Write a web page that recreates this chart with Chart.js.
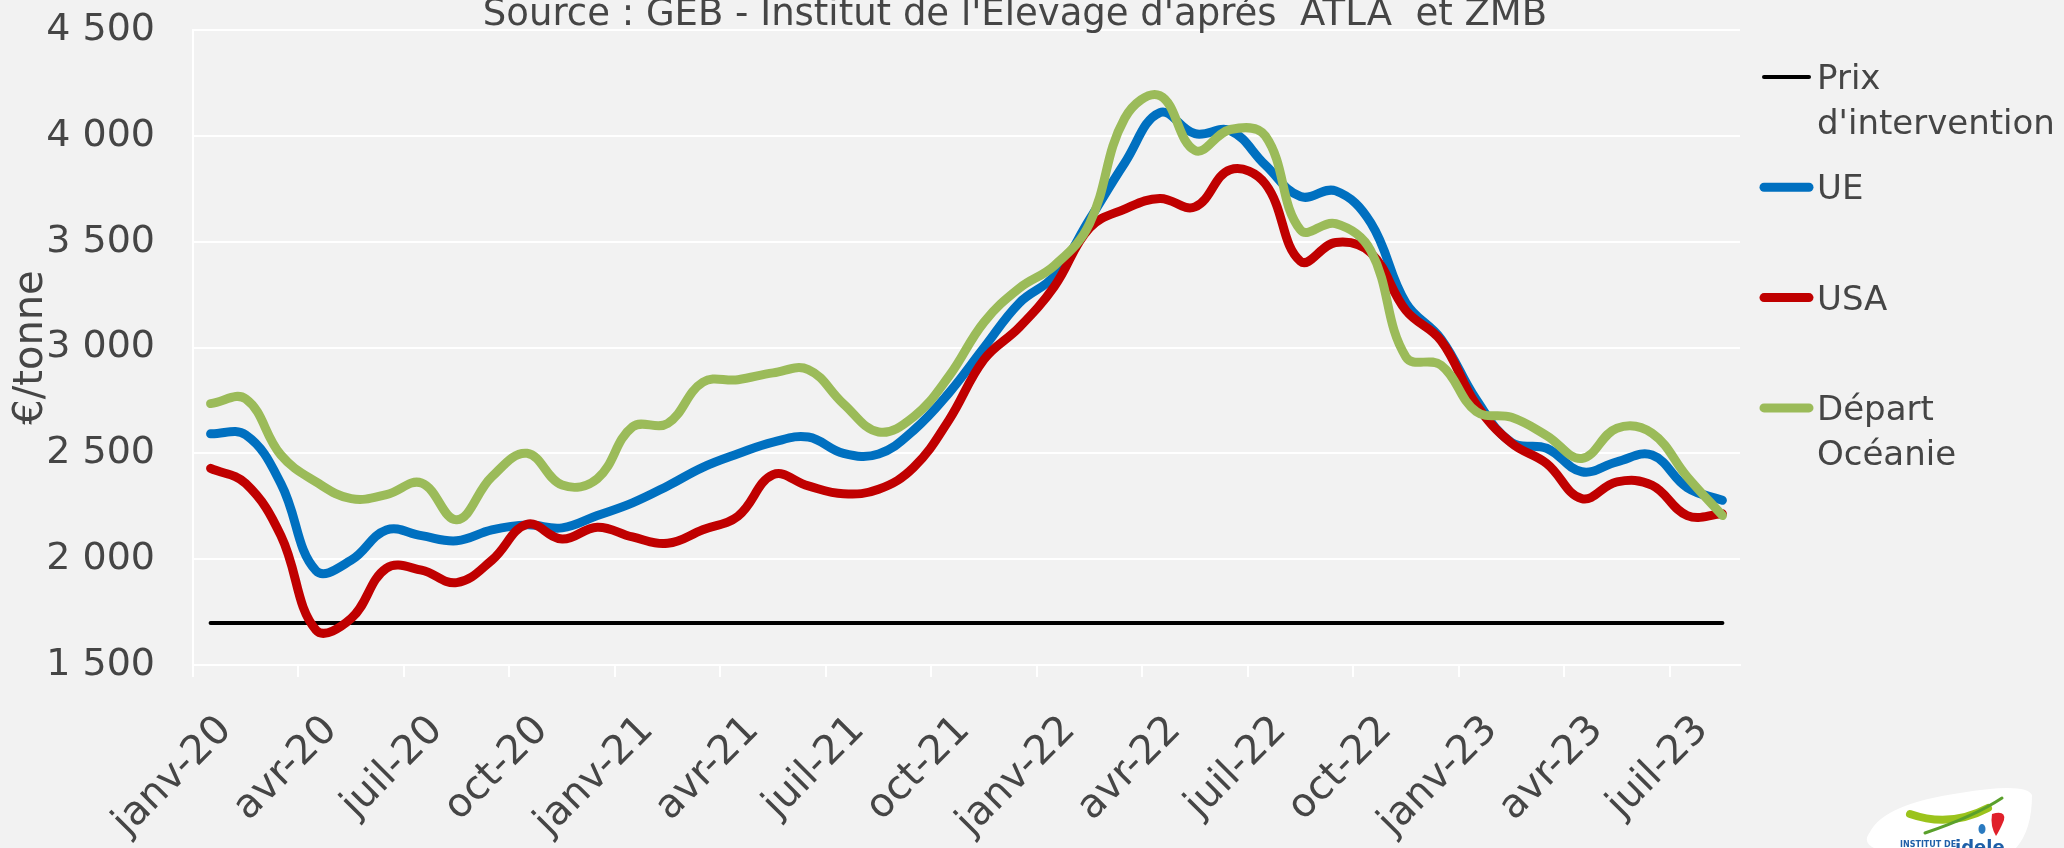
<!DOCTYPE html>
<html>
<head>
<meta charset="utf-8">
<script src="https://cdn.jsdelivr.net/npm/chart.js@4.4.1/dist/chart.umd.min.js"></script>
<style>
  html, body { margin: 0; padding: 0; background: #f2f2f2; }
  canvas { display: block; }
</style>
</head>
<body>
<canvas id="chart" width="2064" height="848"></canvas>
<script>
// Monthly prices, €/tonne
const mois = [
  'janv-20', 'févr-20', 'mars-20', 'avr-20', 'mai-20', 'juin-20', 'juil-20', 'août-20', 'sept-20', 'oct-20', 'nov-20', 'déc-20',
  'janv-21', 'févr-21', 'mars-21', 'avr-21', 'mai-21', 'juin-21', 'juil-21', 'août-21', 'sept-21', 'oct-21', 'nov-21', 'déc-21',
  'janv-22', 'févr-22', 'mars-22', 'avr-22', 'mai-22', 'juin-22', 'juil-22', 'août-22', 'sept-22', 'oct-22', 'nov-22', 'déc-22',
  'janv-23', 'févr-23', 'mars-23', 'avr-23', 'mai-23', 'juin-23', 'juil-23', 'août-23'
];

const prixIntervention = 1698;

const ue = [
  2592, 2587, 2357, 1945, 1995, 2138, 2111, 2087, 2138, 2162, 2148, 2206,
  2266, 2346, 2434, 2498, 2553, 2577, 2500, 2497, 2609, 2785, 3000, 3210,
  3338, 3605, 3872, 4110, 4010, 4025, 3862, 3713, 3740, 3589, 3210, 3040,
  2754, 2551, 2524, 2413, 2460, 2492, 2338, 2278
];

const usa = [
  2429, 2357, 2111, 1665, 1720, 1957, 1948, 1889, 1995, 2165, 2095, 2151,
  2105, 2075, 2139, 2203, 2399, 2346, 2309, 2330, 2434, 2657, 2944, 3095,
  3289, 3565, 3654, 3704, 3664, 3840, 3773, 3407, 3496, 3447, 3175, 3032,
  2730, 2548, 2452, 2286, 2365, 2349, 2206, 2214
];

const oceanie = [
  2735, 2757, 2492, 2365, 2286, 2305, 2360, 2186, 2389, 2500, 2350, 2380,
  2625, 2641, 2836, 2848, 2880, 2896, 2734, 2601, 2673, 2864, 3120, 3280,
  3387, 3585, 4083, 4190, 3931, 4030, 4000, 3555, 3585, 3457, 2955, 2916,
  2697, 2670, 2584, 2476, 2619, 2595, 2389, 2206
];

const yTicks = [1500, 2000, 2500, 3000, 3500, 4000, 4500];
const source = "Source : GEB - Institut de l'Elevage d'aprés  ATLA  et ZMB";

const fontFamily = "'DejaVu Sans', sans-serif";
const textColor = '#454545';

// "4500" -> "4 500"
function milliers(v) {
  return String(v).replace(/\B(?=(\d{3})+(?!\d))/g, ' ');
}

// source line at the top, partly above the canvas edge
const sourceTitle = {
  id: 'sourceTitle',
  afterDraw(chart) {
    const ctx = chart.ctx;
    ctx.save();
    ctx.font = `37px ${fontFamily}`;
    ctx.fillStyle = textColor;
    ctx.textAlign = 'center';
    ctx.textBaseline = 'alphabetic';
    ctx.fillText(source, 1015, 25);
    ctx.restore();
  }
};

// legend on the right, labels wrapped on words
const sideLegend = {
  id: 'sideLegend',
  afterDraw(chart) {
    const ctx = chart.ctx;
    const maxWidth = 245;
    ctx.save();
    ctx.font = `34px ${fontFamily}`;
    ctx.fillStyle = textColor;
    ctx.textAlign = 'left';
    ctx.textBaseline = 'alphabetic';
    chart.data.datasets.forEach((ds, k) => {
      const y = 77 + k * 110.3;
      ctx.strokeStyle = ds.borderColor;
      ctx.lineWidth = ds.borderWidth;
      ctx.lineCap = 'round';
      ctx.beginPath();
      ctx.moveTo(1764, y);
      ctx.lineTo(1809, y);
      ctx.stroke();

      const lines = [];
      let cur = '';
      ds.label.split(' ').forEach(w => {
        const test = cur ? cur + ' ' + w : w;
        if (cur && ctx.measureText(test).width > maxWidth) {
          lines.push(cur);
          cur = w;
        } else {
          cur = test;
        }
      });
      lines.push(cur);
      lines.forEach((line, j) => ctx.fillText(line, 1817, y + 12 + j * 45));
    });
    ctx.restore();
  }
};

// small institute logo, bottom right
const logo = {
  id: 'logo',
  afterDraw(chart) {
    const ctx = chart.ctx;
    ctx.save();
    ctx.fillStyle = '#ffffff';
    ctx.beginPath();
    ctx.moveTo(1870, 832);
    ctx.quadraticCurveTo(1884, 804, 1960, 793);
    ctx.quadraticCurveTo(2026, 782, 2032, 795);
    ctx.quadraticCurveTo(2032, 830, 2016, 848);
    ctx.lineTo(1874, 848);
    ctx.quadraticCurveTo(1862, 842, 1870, 832);
    ctx.fill();

    ctx.strokeStyle = '#9bc31c';
    ctx.lineCap = 'round';
    ctx.lineWidth = 8;
    ctx.beginPath();
    ctx.moveTo(1910, 814);
    ctx.quadraticCurveTo(1950, 828, 1988, 808);
    ctx.stroke();
    ctx.lineWidth = 3;
    ctx.strokeStyle = '#5aa02c';
    ctx.beginPath();
    ctx.moveTo(1925, 833);
    ctx.quadraticCurveTo(1975, 816, 2002, 798);
    ctx.stroke();

    ctx.fillStyle = '#e0202a';
    ctx.beginPath();
    ctx.moveTo(1992, 814);
    ctx.quadraticCurveTo(2006, 810, 2004, 820);
    ctx.quadraticCurveTo(2000, 830, 1996, 836);
    ctx.quadraticCurveTo(1990, 826, 1992, 814);
    ctx.fill();
    ctx.fillStyle = '#2a7ac0';
    ctx.beginPath();
    ctx.ellipse(1982, 829, 3.5, 5, 0, 0, Math.PI * 2);
    ctx.fill();

    ctx.fillStyle = '#1f5fa8';
    ctx.font = `bold 8px ${fontFamily}`;
    ctx.fillText('INSTITUT DE', 1900, 847);
    ctx.font = `bold 18px ${fontFamily}`;
    ctx.fillText('idele', 1955, 853);
    ctx.restore();
  }
};

const ctx = document.getElementById('chart').getContext('2d');
const chart = new Chart(ctx, {
  type: 'line',
  data: {
    labels: mois,
    datasets: [
      {
        label: "Prix d'intervention",
        data: mois.map(() => prixIntervention),
        borderColor: '#000000',
        borderWidth: 4,
        order: 4
      },
      {
        label: 'UE',
        data: ue,
        borderColor: '#0070c0',
        borderWidth: 9,
        order: 3
      },
      {
        label: 'USA',
        data: usa,
        borderColor: '#c00000',
        borderWidth: 9,
        order: 2
      },
      {
        label: 'Départ Océanie',
        data: oceanie,
        borderColor: '#9bbb59',
        borderWidth: 9,
        order: 1
      }
    ]
  },
  options: {
    responsive: false,
    devicePixelRatio: 1,
    animation: false,
    layout: { padding: { top: 30, right: 324, left: 0, bottom: 0 } },
    elements: {
      point: { radius: 0, hoverRadius: 0 },
      line: { tension: 0.4, borderCapStyle: 'round', borderJoinStyle: 'round', fill: false }
    },
    plugins: {
      legend: { display: false },
      tooltip: { enabled: false }
    },
    scales: {
      x: {
        offset: true,
        grid: {
          offset: true,
          drawOnChartArea: false,
          drawTicks: true,
          tickLength: 12,
          lineWidth: 2,
          color: c => (c.index % 3 === 0 ? '#ffffff' : 'rgba(0,0,0,0)')
        },
        border: { display: true, color: '#ffffff', width: 2 },
        ticks: {
          autoSkip: false,
          minRotation: 45,
          maxRotation: 45,
          padding: 30,
          labelOffset: 15,
          color: textColor,
          font: { family: fontFamily, size: 40 },
          callback: (v, i) => (i % 3 === 0 ? mois[i] : '')
        },
        afterFit(scale) { scale.height = 183; }
      },
      y: {
        min: 1500,
        max: 4500,
        afterBuildTicks(scale) { scale.ticks = yTicks.map(v => ({ value: v })); },
        grid: { color: '#ffffff', lineWidth: 2, drawTicks: false },
        border: { display: true, color: '#ffffff', width: 2 },
        ticks: {
          padding: 38,
          color: textColor,
          font: { family: fontFamily, size: 38 },
          callback: v => milliers(v)
        },
        title: {
          display: true,
          text: '€/tonne',
          color: textColor,
          font: { family: fontFamily, size: 40 },
          padding: { top: 8, bottom: 0 }
        },
        afterFit(scale) {
          scale.width = 193;
          scale.paddingTop = 0;
          scale.paddingBottom = 0;
        }
      }
    }
  },
  plugins: [sourceTitle, sideLegend, logo]
});
</script>
</body>
</html>
